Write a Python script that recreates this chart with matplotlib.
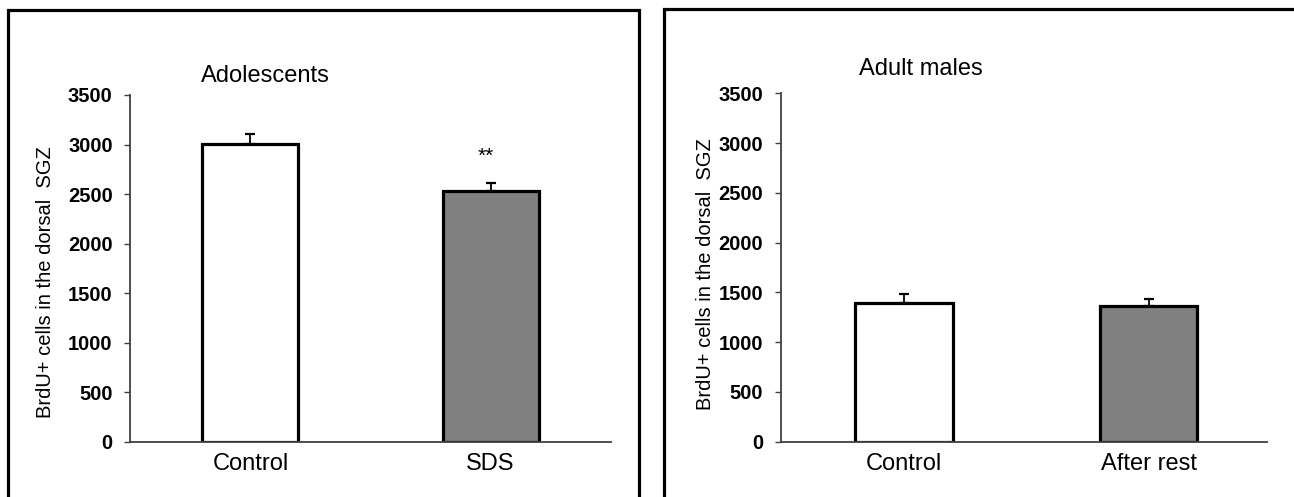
import matplotlib.pyplot as plt
from matplotlib.patches import Rectangle

plt.rcParams['font.family'] = ['Liberation Sans', 'DejaVu Sans']

# data
adol_groups = ['Control', 'SDS']
adol_means = [3010, 2530]
adol_errs = [95, 78]

adult_groups = ['Control', 'After rest']
adult_means = [1390, 1360]
adult_errs = [90, 72]

bar_colors = ['white', '#808080']
ylabel = 'BrdU+ cells in the dorsal  SGZ'
yticks = [0, 500, 1000, 1500, 2000, 2500, 3000, 3500]

W, H = 1294, 497
fig = plt.figure(figsize=(W / 100, H / 100), dpi=100)


def px_axes(x0, x1, y_top, y_bot):
    return fig.add_axes([x0 / W, (H - y_bot) / H, (x1 - x0) / W, (y_bot - y_top) / H])


def draw_panel(ax, groups, means, errs, xlim, label_x, label_y):
    x = range(len(groups))
    ax.bar(x, means, width=0.40, color=bar_colors, edgecolor='black', linewidth=2.3, zorder=2)
    ax.errorbar(x, means, yerr=[[0] * len(errs), errs], fmt='none', ecolor='black',
                elinewidth=1.3, capsize=3.5, capthick=1.6, zorder=1)
    ax.set_xlim(*xlim)
    ax.set_ylim(0, 3500)
    ax.set_yticks(yticks)
    ax.set_yticklabels([str(t) for t in yticks], fontsize=14.5, fontweight='bold')
    ax.set_xticks(list(x))
    ax.set_xticklabels(groups, fontsize=17)
    ax.tick_params(axis='x', length=0, pad=8)
    ax.tick_params(axis='y', length=4.5, width=1.0, color='#404040', pad=8)
    for s in ['top', 'right']:
        ax.spines[s].set_visible(False)
    for s in ['left', 'bottom']:
        ax.spines[s].set_color('#404040')
        ax.spines[s].set_linewidth(1.3)
    ax.set_ylabel(ylabel, fontsize=14.5)
    ax.yaxis.set_label_coords(label_x, label_y)


ax1 = px_axes(130, 611, 95, 441.7)
draw_panel(ax1, adol_groups, adol_means, adol_errs, (-0.502, 1.502), -0.156, 0.46)
ax1.text(0.98, 2790, '**', ha='center', va='bottom', fontsize=15)

ax2 = px_axes(780.7, 1266.7, 93.3, 441.7)
draw_panel(ax2, adult_groups, adult_means, adult_errs, (-0.504, 1.483), -0.135, 0.48)

fig.text(265 / W, 1 - 76 / H, 'Adolescents', ha='center', va='center', fontsize=17)
fig.text(921 / W, 1 - 69 / H, 'Adult males', ha='center', va='center', fontsize=17)

# black frames around each panel
fig.patches.append(Rectangle((7.5 / W, -0.05), (639 - 7.5) / W, 1.05 - 9.5 / H,
                             transform=fig.transFigure, fill=False,
                             edgecolor='black', linewidth=2.3, zorder=5))
fig.patches.append(Rectangle((663.5 / W, -0.05), 0.6, 1.05 - 9 / H,
                             transform=fig.transFigure, fill=False,
                             edgecolor='black', linewidth=2.3, zorder=5))

fig.savefig('out.png', dpi=100)
